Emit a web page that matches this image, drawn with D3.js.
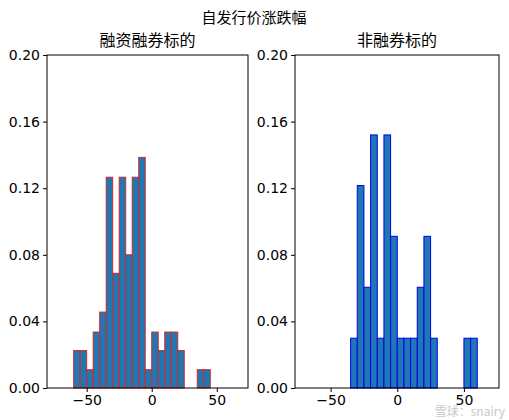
<!DOCTYPE html><html><head><meta charset="utf-8"><script src="https://cdn.jsdelivr.net/npm/d3@7"></script>
<style>body{margin:0;background:#fff}</style></head><body><svg id="c" width="509" height="420"></svg><script>
const leftEdges=[-60,-55,-50,-45,-40,-35,-30,-25,-20,-15,-10,-5,0,5,10,15,20,25,30,35,40];
const leftVals=[0.0225,0.0225,0.011,0.0336,0.0456,0.1266,0.0689,0.1266,0.080,0.1266,0.1385,0.011,0.0336,0.0225,0.0336,0.0336,0.0225,0,0,0.011,0.011];
const rightEdges=[-35,-30,-25,-20,-15,-10,-5,0,5,10,15,20,25,50,55];
const rightVals=[0.0299,0.1216,0.0605,0.152,0.0299,0.152,0.0911,0.0299,0.0299,0.0299,0.0605,0.0911,0.0299,0.0299,0.0299];
const binW=5;
const yTicks=[0,0.04,0.08,0.12,0.16,0.20];
const xTicks=[-50,0,50];
const svg=d3.select("#c");
svg.append("text").attr("x",254).attr("y",23).attr("text-anchor","middle").attr("font-family","Noto Sans CJK SC").attr("font-size",15).text("自发行价涨跌幅");
function panel(x0,x1,dom,edges,vals,stroke,title){
  const x=d3.scaleLinear().domain(dom).range([x0,x1]);
  const y=d3.scaleLinear().domain([0,0.2]).range([388,55]);
  const g=svg.append("g");
  g.selectAll("rect").data(vals.map((v,i)=>({e:edges[i],v}))).enter().append("rect")
   .attr("x",d=>x(d.e)).attr("width",d=>x(d.e+binW)-x(d.e)).attr("y",d=>y(d.v)).attr("height",d=>y(0)-y(d.v))
   .attr("fill","#1f77b4").attr("stroke",stroke).attr("stroke-width",1);
  g.append("rect").attr("x",x0).attr("y",55).attr("width",x1-x0).attr("height",333).attr("fill","none").attr("stroke","#000").attr("stroke-width",1);
  const ax=g.append("g").attr("transform","translate(0,388)").call(d3.axisBottom(x).tickValues(xTicks).tickSize(4).tickFormat(d=>d<0?"−"+(-d):d));
  const ay=g.append("g").attr("transform",`translate(${x0},0)`).call(d3.axisLeft(y).tickValues(yTicks).tickSize(4).tickFormat(d3.format(".2f")));
  [ax,ay].forEach(a=>{a.select(".domain").remove();a.selectAll("text").attr("font-family","DejaVu Sans").attr("font-size",14).attr("fill","#000");});
  g.append("text").attr("x",(x0+x1)/2).attr("y",46).attr("text-anchor","middle").attr("font-family","Noto Sans CJK SC").attr("font-size",16).text(title);
}
panel(47,248,[-80.5,74],leftEdges,leftVals,"#d62728","融资融券标的");
panel(295,499,[-76.7,76.3],rightEdges,rightVals,"#0000ee","非融券标的");
svg.append("text").attr("x",505).attr("y",416).attr("text-anchor","end").attr("font-family","Noto Sans CJK SC").attr("font-size",12).attr("fill","#bbb").attr("opacity",0.8).text("雪球：snairy");
</script></body></html>
